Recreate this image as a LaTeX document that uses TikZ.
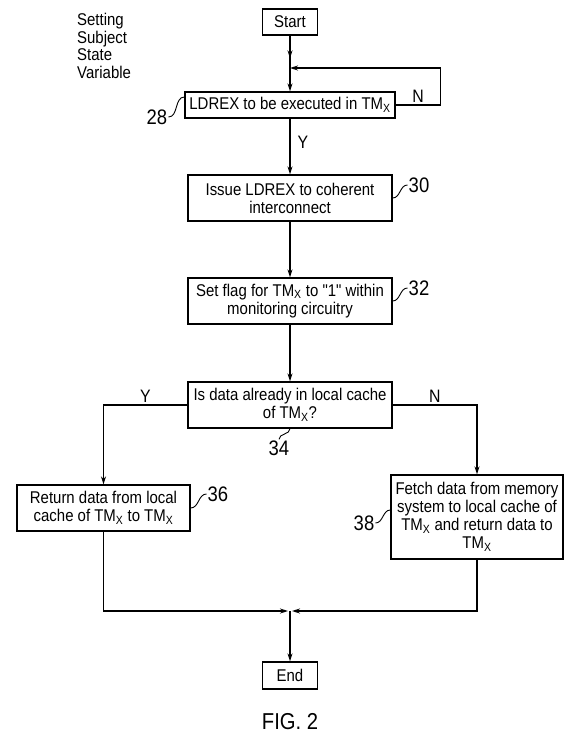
\documentclass[tikz,border=0pt]{standalone}
\usepackage{fontspec}
\setmainfont{Liberation Sans}[FakeStretch=0.88, Ligatures=TeXOff]
\usetikzlibrary{arrows.meta, decorations.markings}

\newcommand{\tmx}{TM\textsubscript{X}}

\begin{document}
\begin{tikzpicture}[x=1pt, y=-1pt,
    box/.style={draw=black, line width=1.3pt, align=center, inner sep=0pt, font=\fontsize{17}{18}\selectfont},
    flow/.style={line width=1.2pt, -{Stealth[length=8pt, width=5pt]}},
    wire/.style={line width=1.2pt},
    lead/.style={line width=0.9pt},
    refnum/.style={font=\fontsize{21}{21}\selectfont, inner sep=1pt},
    yn/.style={font=\fontsize{18}{18}\selectfont, inner sep=2pt},
    tipat/.style={postaction={decorate}, decoration={markings, mark=at position #1 with {\arrow{Stealth[length=8pt, width=5pt]}}}}
  ]
  \useasboundingbox (0,0) rectangle (572,734);

  % -- heading --
  \node[anchor=north west, align=left, inner sep=0pt, font=\fontsize{17}{17.7}\selectfont] (subject) at (77,13) {Setting\\Subject\\State\\Variable};

  % -- steps --
  \node[box, minimum width=55pt, minimum height=26pt] (start) at (290,22) {Start};
  \node[box, minimum width=210pt, minimum height=26pt] (ldrex) at (290,105) {LDREX to be executed in \tmx};
  \node[box, minimum width=204pt, minimum height=46pt] (issue) at (290,198) {Issue LDREX to coherent\\interconnect};
  \node[box, minimum width=204pt, minimum height=46pt] (setflag) at (290,301) {Set flag for \tmx{} to "1" within\\monitoring circuitry};
  \node[box, minimum width=204pt, minimum height=46pt] (incache) at (290,405) {Is data already in local cache\\of \tmx?};
  \node[box, minimum width=173pt, minimum height=46pt] (retlocal) at (103.5,508) {Return data from local\\cache of \tmx{} to \tmx};
  \node[box, minimum width=172pt, minimum height=84pt] (fetch) at (477,517) {Fetch data from memory\\system to local cache of\\\tmx{} and return data to\\\tmx};
  \node[box, minimum width=55pt, minimum height=27pt] (finish) at (290,675.5) {End};

  % -- connectors --
  \coordinate (loopin) at (290,68);
  \coordinate (merge) at (290,611);
  \draw[wire, tipat=0.7] (start) -- (loopin);
  \draw[flow] (loopin) -- (ldrex);
  \draw[flow] (ldrex.east) -- node[yn, above] {N} ++(45,0) |- (loopin);
  \draw[flow] (ldrex) -- node[yn, right, pos=0.42, xshift=5pt] {Y} (issue);
  \draw[flow] (issue) -- (setflag);
  \draw[flow] (setflag) -- (incache);
  \draw[flow] (incache.west) -| node[yn, pos=0.25, above] {Y} (retlocal.north);
  \draw[flow] (incache.east) -| node[yn, pos=0.25, above] {N} (fetch.north);
  \draw[flow, shorten >=2pt] (retlocal.south) |- (merge);
  \draw[flow, shorten >=2pt] (fetch.south) |- (merge);
  \draw[flow] (merge) -- (finish);

  % -- reference numerals --
  \node[refnum] (n28) at (157,117) {28};
  \draw[lead] (n28.east) to[out=0, in=180] ([yshift=8pt]ldrex.west);
  \node[refnum] (n30) at (419,185) {30};
  \draw[lead] (issue.east) to[out=0, in=180] (n30.west);
  \node[refnum] (n32) at (419,288) {32};
  \draw[lead] (setflag.east) to[out=0, in=180] (n32.west);
  \node[refnum] (n34) at (279,448) {34};
  \draw[lead] (n34.north) to[out=90, in=-90] (incache.south);
  \node[refnum] (n36) at (218,494) {36};
  \draw[lead] (retlocal.east) to[out=0, in=180] (n36.west);
  \node[refnum] (n38) at (364,523) {38};
  \draw[lead] (n38.east) to[out=0, in=180] ([yshift=7pt]fetch.west);

  \node[font=\fontsize{23}{23}\selectfont] (fig) at (290,722) {FIG. 2};
\end{tikzpicture}
\end{document}
